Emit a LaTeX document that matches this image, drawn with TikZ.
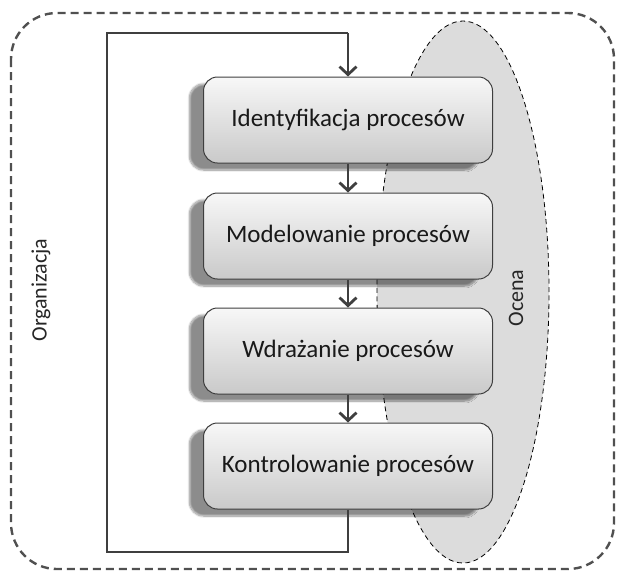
\documentclass[tikz,border=0pt]{standalone}
\usepackage{fontspec}
\setmainfont{Carlito}
\usetikzlibrary{arrows.meta,shadows.blur,shapes.geometric}
\definecolor{linegray}{HTML}{3F3F3F}
\definecolor{framegray}{HTML}{505050}
\definecolor{ovalfill}{HTML}{DCDCDC}
\tikzset{
  stepbox/.style={draw=linegray, line width=1pt, rounded corners=14pt,
    minimum width=289pt, minimum height=86pt, inner sep=0pt,
    top color=gray!6, bottom color=gray!42,
    font=\fontsize{25}{29}\selectfont, text=black!90,
    blur shadow={shadow xshift=-14pt, shadow yshift=-7pt, shadow blur steps=10, shadow opacity=45}},
  flow/.style={draw=linegray, line width=2.8pt, -{Straight Barb[length=8pt,width=17pt,line width=2.8pt]}},
  loop/.style={draw=linegray, line width=2.8pt},
  sidelabel/.style={font=\fontsize{22}{26}\selectfont, rotate=90, text=black!85}
}
\begin{document}
\begin{tikzpicture}[x=1pt,y=-1pt]
\useasboundingbox (0,0) rectangle (617,574);
% organisation frame
\draw[framegray, line width=2.4pt, dash pattern=on 8pt off 5pt, rounded corners=46pt]
  (11,13) rectangle (614,569);
% evaluation oval
\node[ellipse, draw=black, fill=ovalfill, line width=0.8pt, dash pattern=on 5pt off 3.5pt,
  minimum width=172pt, minimum height=542pt, inner sep=0pt] (oval) at (463,292) {};
\node[sidelabel] (ocena) at (516,298) {Ocena};
\node[sidelabel] (org) at (41,290) {Organizacja};
% process steps
\node[stepbox] (s1) at (348,120) {Identyfikacja procesów};
\node[stepbox] (s2) at (348,236) {Modelowanie procesów};
\node[stepbox] (s3) at (348,351) {Wdrażanie procesów};
\node[stepbox] (s4) at (348,466) {Kontrolowanie procesów};
% connectors
\draw[flow] (s1.south) -- (s2.north);
\draw[flow] (s2.south) -- (s3.north);
\draw[flow] (s3.south) -- (s4.north);
\coordinate (lb) at (107,552);
\coordinate (lt) at (107,33);
\draw[loop] (s4.south) -- (s4.south |- lb) -- (lb) -- (lt) -- (s1.north |- lt);
\draw[flow] (s1.north |- lt) -- (s1.north);
\end{tikzpicture}
\end{document}
